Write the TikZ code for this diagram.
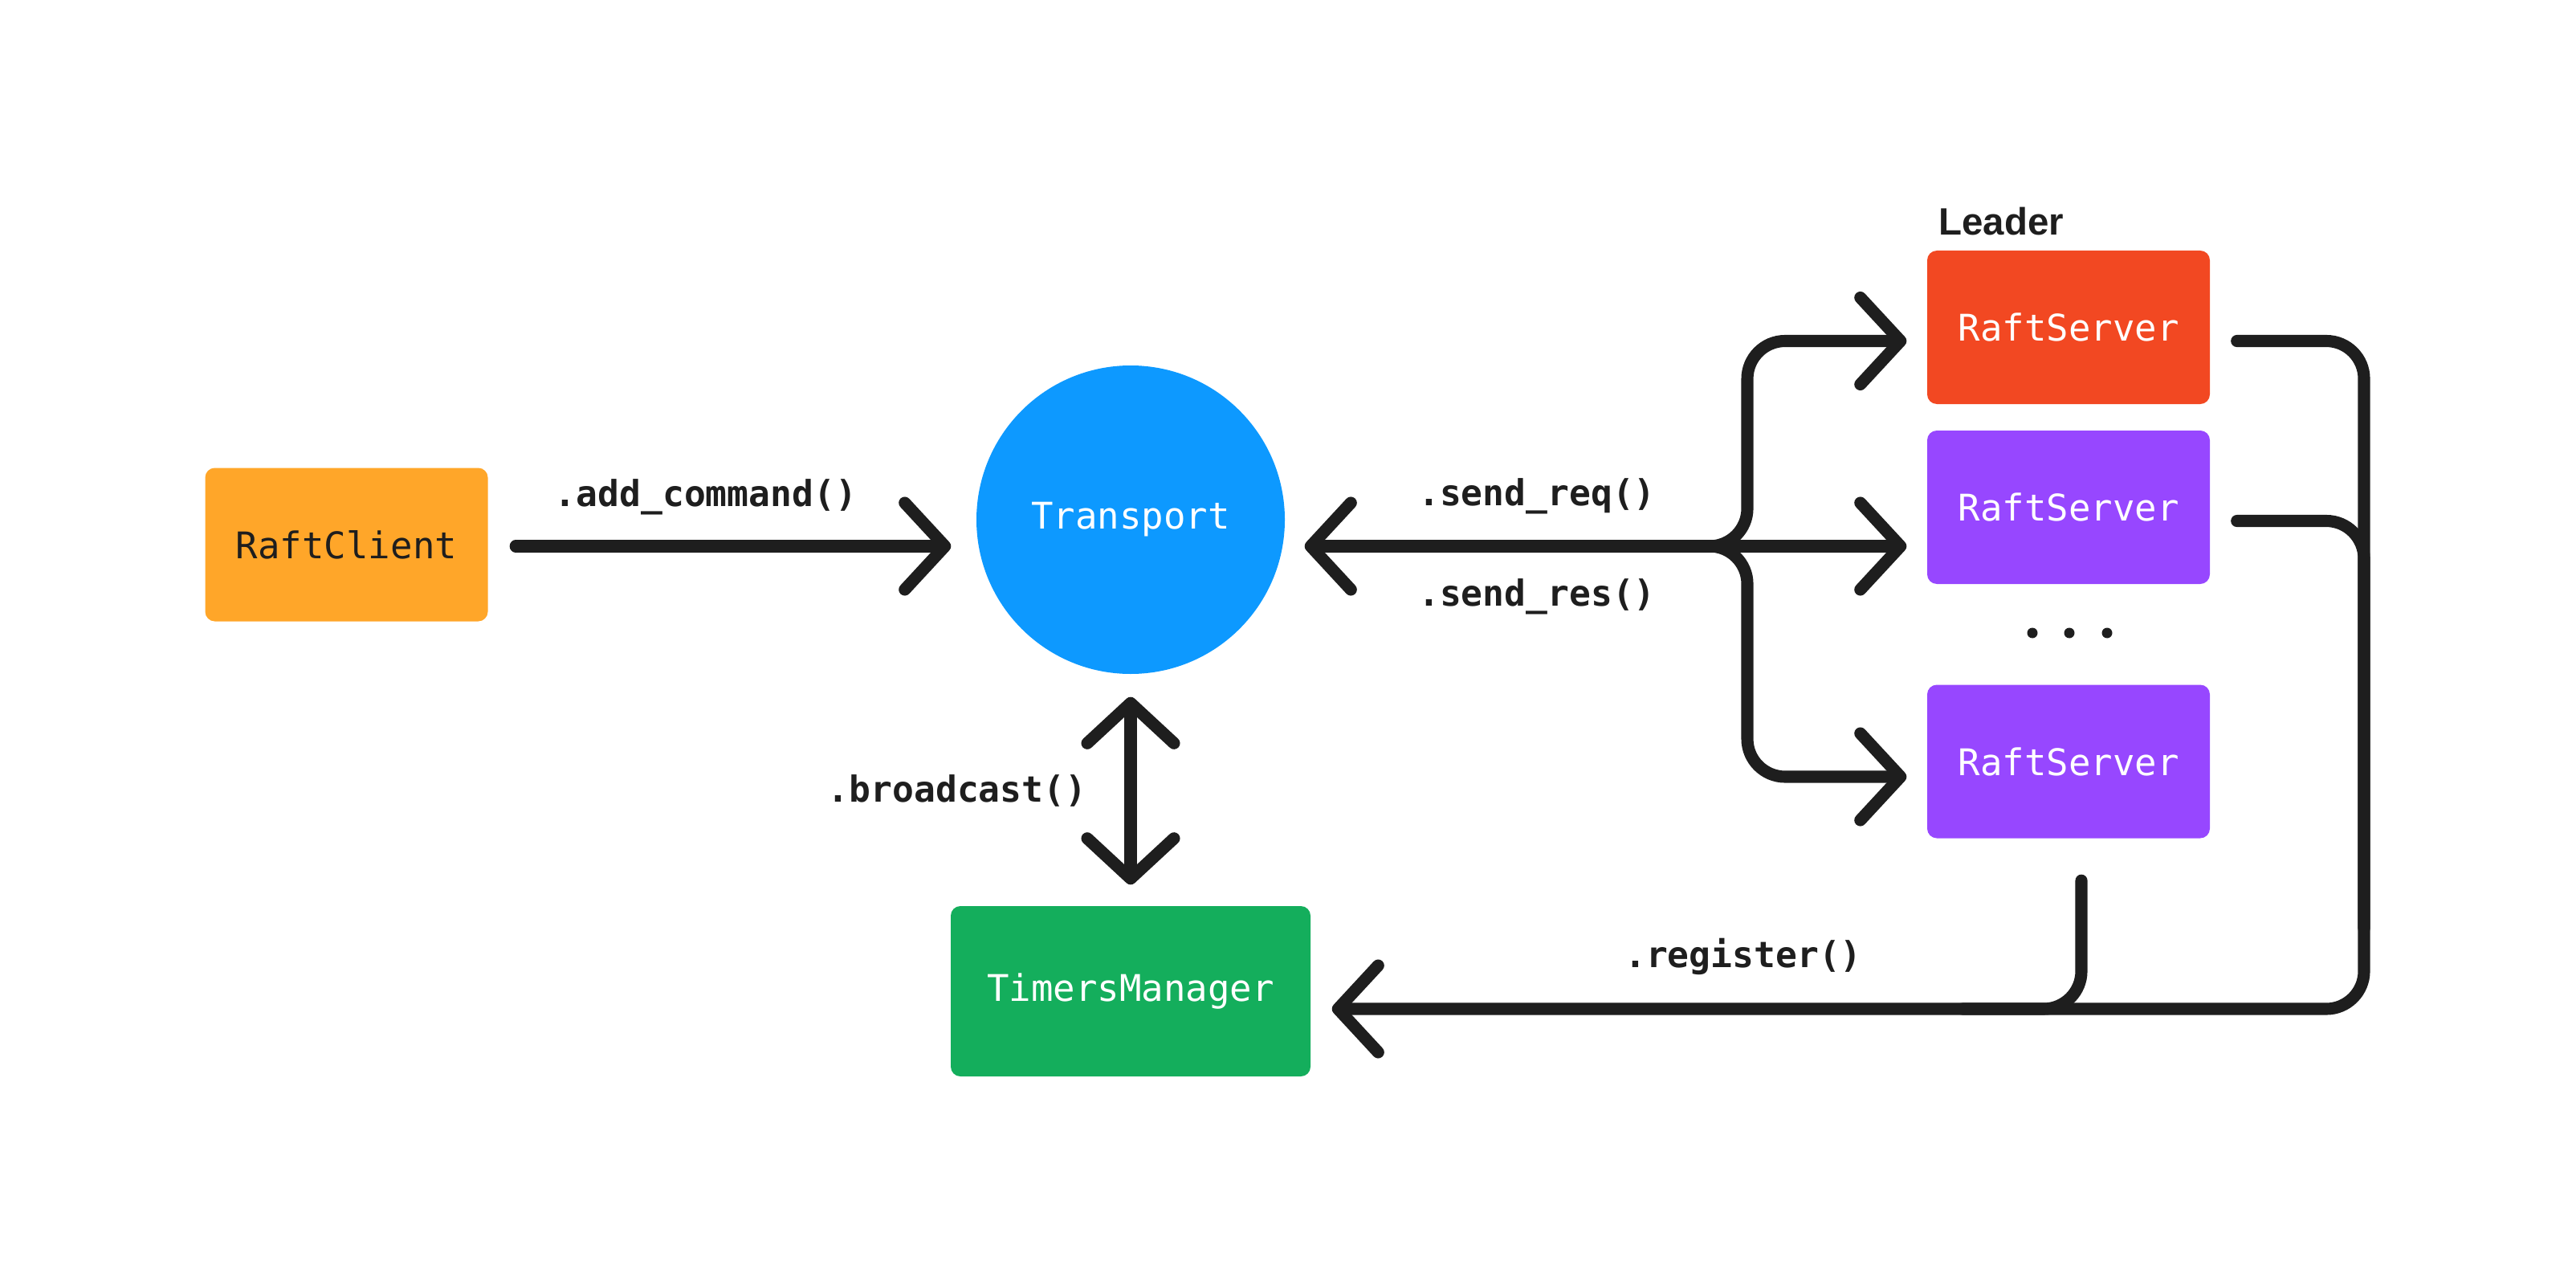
\documentclass[tikz,border=0pt]{standalone}
\usepackage{fontspec}
\setmonofont{DejaVu Sans Mono}
\newfontfamily\leaderfont{Liberation Sans}
\usepackage{tikz}
\usetikzlibrary{arrows.meta, calc}
\definecolor{ink}{HTML}{1E1E1E}
\definecolor{clientorange}{HTML}{FFA629}
\definecolor{transportblue}{HTML}{0D99FF}
\definecolor{leaderred}{HTML}{F24822}
\definecolor{serverpurple}{HTML}{9747FF}
\definecolor{timersgreen}{HTML}{14AE5C}
\tikzstyle{box} = [rectangle, rounded corners=0.12cm, minimum width=3.52cm, minimum height=1.91cm, inner sep=0pt, text=white, font=\ttfamily\fontsize{13pt}{15pt}\selectfont]
\tikzstyle{calltext} = [anchor=base, text=ink, font=\ttfamily\bfseries\fontsize{12.7pt}{15pt}\selectfont]
\tikzstyle{wire} = [draw=ink, line width=4.3pt, line cap=round, rounded corners=0.47cm]
\tikzstyle{arrow} = [wire, ->, >={Straight Barb[round, length=5mm, width=10.8mm]}]

\begin{document}
\begin{tikzpicture}
	\useasboundingbox (0,0) rectangle (32.08,15.95);

	\node[box, fill=clientorange, text=ink] (client) at (4.315,9.17) {RaftClient};
	\node[circle, fill=transportblue, minimum size=3.84cm, inner sep=0pt, text=white, font=\ttfamily\fontsize{13pt}{15pt}\selectfont] (transport) at (14.08,9.48) {Transport};
	\node[box, fill=timersgreen, minimum width=4.48cm, minimum height=2.12cm] (timers) at (14.08,3.61) {TimersManager};

	\node[box, fill=leaderred] (leader) at (25.76,11.875) {RaftServer};
	\node[box, fill=serverpurple] (follower) at (25.76,9.635) {RaftServer};
	\node[box, fill=serverpurple] (lastfollower) at (25.76,6.47) {RaftServer};
	\node[anchor=base west, text=ink, font=\leaderfont\bfseries\fontsize{13.5pt}{16pt}\selectfont] (leadertag) at (24.02,13.02) {Leader};

	\foreach \x in {25.31,25.77,26.24}
		\fill[ink] (\x,8.07) circle (0.065);

	\node[calltext] (addcall) at (8.79,9.65) {.add\_command()};
	\node[calltext] (reqcall) at (19.14,9.66) {.send\_req()};
	\node[calltext] (rescall) at (19.14,8.41) {.send\_res()};
	\node[calltext] (bcastcall) at (11.92,5.97) {.broadcast()};
	\node[calltext] (regcall) at (21.71,3.91) {.register()};

	\coordinate (hub) at (21.76,9.15);
	\coordinate (rail) at (29.44,3.39);
	\coordinate (leaderin) at ($(leader.west)+(-0.25,-0.17)$);
	\coordinate (lastin) at ($(lastfollower.west)+(-0.25,-0.19)$);

	\draw[arrow, shorten <=0.34cm, shorten >=0.31cm] (client.east |- hub) -- (transport.west |- hub);
	\draw[arrow, <->, shorten <=0.24cm, shorten >=0.25cm] (transport.east |- hub) -- (follower.west |- hub);
	\draw[arrow] ($(hub)+(-0.6,0)$) -| (hub |- leaderin) -- (leaderin);
	\draw[arrow] ($(hub)+(-0.6,0)$) -| (hub |- lastin) -- (lastin);
	\draw[arrow, <->, shorten <=0.28cm, shorten >=0.26cm] (transport.south) -- (timers.north);

	\draw[arrow, shorten >=0.26cm] ($(leader.east)+(0.33,-0.17)$) -| (rail) -- (timers.east |- rail);
	\draw[wire] ($(follower.east)+(0.33,-0.17)$) -| ($(rail)+(0,1)$);
	\draw[wire] ($(lastfollower.south)+(0.16,-0.52)$) |- ($(rail)+(-5,0)$);
\end{tikzpicture}
\end{document}
